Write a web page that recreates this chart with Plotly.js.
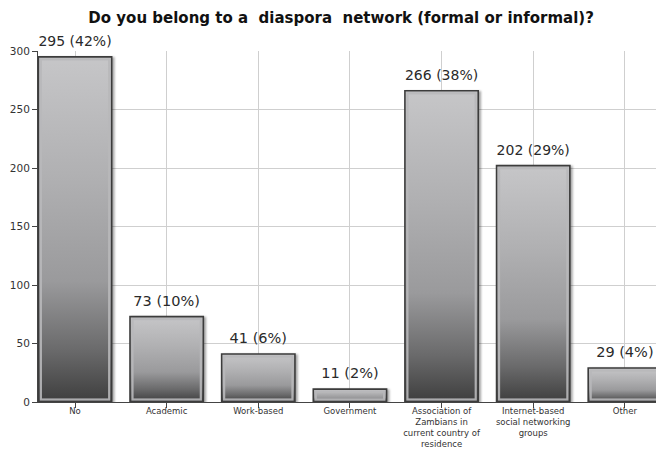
<!DOCTYPE html>
<html>
<head>
<meta charset="utf-8">
<script src="https://cdn.plot.ly/plotly-3.0.1.min.js"></script>
<style>html,body{margin:0;padding:0;background:#fff;}#chart{width:656px;height:450px;}</style>
</head>
<body>
<div id="chart"></div>
<script>
const categories = ["No", "Academic", "Work-based", "Government",
  "Association of<br>Zambians in<br>current country of<br>residence",
  "Internet-based<br>social networking<br>groups", "Other"];
const counts = [295, 73, 41, 11, 266, 202, 29];
const percents = [42, 10, 6, 2, 38, 29, 4];
const yTicks = [0, 50, 100, 150, 200, 250, 300];

const labels = counts.map((c, i) => c + " (" + percents[i] + "%)");
const FONT = "DejaVu Sans, Arial, sans-serif";

const trace = {
  type: "bar",
  x: categories,
  y: counts,
  text: labels,
  textposition: "outside",
  cliponaxis: false,
  textfont: {family: FONT, size: 14.5, color: "#2a2a2a"},
  width: 0.8,
  marker: {color: "#a5a5a7", line: {color: "#3c3c3c", width: 1.6}},
  hoverinfo: "none"
};

const layout = {
  width: 656, height: 450,
  margin: {l: 38, r: 0, t: 51, b: 48},
  paper_bgcolor: "#ffffff",
  plot_bgcolor: "#ffffff",
  showlegend: false,
  title: {
    text: "<b>Do you belong to a  diaspora  network (formal or informal)?</b>",
    font: {family: FONT, size: 15, color: "#111"},
    x: 0.52, xanchor: "center", xref: "container",
    y: 0.96, yanchor: "middle", yref: "container"
  },
  xaxis: {
    type: "category",
    range: [-0.404, 6.34],
    showgrid: true, gridcolor: "#cfcfcf", gridwidth: 1,
    showline: true, linecolor: "#444", linewidth: 1,
    ticks: "outside", ticklen: 5, tickcolor: "#444",
    tickfont: {family: FONT, size: 8.5, color: "#333"},
    tickangle: 0, automargin: false, zeroline: false
  },
  yaxis: {
    range: [0, 300],
    tickvals: yTicks,
    showgrid: true, gridcolor: "#cfcfcf", gridwidth: 1,
    showline: true, linecolor: "#444", linewidth: 1,
    ticks: "outside", ticklen: 5, tickcolor: "#444",
    tickfont: {family: FONT, size: 10.5, color: "#333"},
    zeroline: false, automargin: false
  },
  bargap: 0.2
};

Plotly.newPlot("chart", [trace], layout, {staticPlot: true}).then(function (gd) {
  const svgNS = "http://www.w3.org/2000/svg";
  const svg = gd.querySelector("svg.main-svg");
  let defs = svg.querySelector("defs");
  if (!defs) { defs = document.createElementNS(svgNS, "defs"); svg.insertBefore(defs, svg.firstChild); }
  function grad(id, stops) {
    const g = document.createElementNS(svgNS, "linearGradient");
    g.setAttribute("id", id);
    g.setAttribute("x1", "0"); g.setAttribute("y1", "0");
    g.setAttribute("x2", "0"); g.setAttribute("y2", "1");
    stops.forEach(s => {
      const st = document.createElementNS(svgNS, "stop");
      st.setAttribute("offset", s[0]);
      st.setAttribute("stop-color", s[1]);
      g.appendChild(st);
    });
    defs.appendChild(g);
  }
  grad("barGrad", [["0", "#c6c6c8"], ["0.35", "#b0b0b2"], ["0.65", "#9a9a9c"], ["0.85", "#6a6a6b"], ["1", "#3e3e3e"]]);
  grad("bgGrad", [["0", "#ffffff"], ["0.55", "#fbfbfb"], ["1", "#ebebeb"]]);
  const bg = svg.querySelector(".bglayer rect.bg");
  if (bg) bg.style.fill = "url(#bgGrad)";
  gd.querySelectorAll(".bars .point path").forEach(p => {
    p.style.fill = "url(#barGrad)";
    p.style.filter = "drop-shadow(2px 1px 1px rgba(0,0,0,0.35))";
    const b = p.getBBox();
    if (b.width > 8 && b.height > 6) {
      const r = document.createElementNS(svgNS, "rect");
      r.setAttribute("x", b.x + 2.5); r.setAttribute("y", b.y + 2.5);
      r.setAttribute("width", b.width - 5); r.setAttribute("height", b.height - 5);
      r.setAttribute("fill", "none");
      r.setAttribute("stroke", "#b8b8ba");
      r.setAttribute("stroke-width", "2.2");
      r.setAttribute("opacity", "0.9");
      p.parentNode.appendChild(r);
    }
  });
  // value labels sit a little higher above the bars in the reference
  gd.querySelectorAll(".bars .point text").forEach(t => {
    t.setAttribute("transform", (t.getAttribute("transform") || "") + " translate(0,-5)");
  });
  gd.querySelectorAll(".xaxislayer-above .xtick text").forEach(t => {
    t.setAttribute("transform", (t.getAttribute("transform") || "") + " translate(0,-4)");
  });
});
</script>
</body>
</html>
